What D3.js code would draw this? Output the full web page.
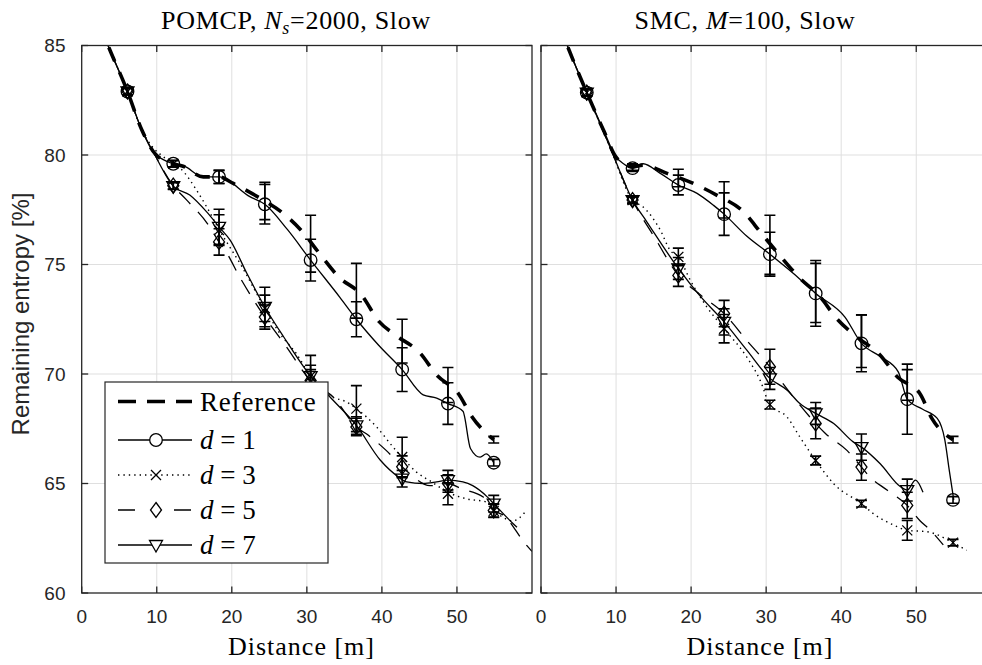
<!DOCTYPE html>
<html><head><meta charset="utf-8">
<script src="https://cdn.jsdelivr.net/npm/d3@7"></script>
<style>body{margin:0;background:#fff}svg{display:block}</style>
</head><body>
<svg id="chart" width="982" height="665"></svg>
<script>
// ---------------- data ----------------
const xTickValues = [0, 10, 20, 30, 40, 50];
const yTickValues = [60, 65, 70, 75, 80, 85];
const markerX = [6.1, 12.2, 18.3, 24.4, 30.5, 36.6, 42.7, 48.8, 54.9];
const legendLabels = ["Reference", "d = 1", "d = 3", "d = 5", "d = 7"];
const xAxisLabel = "Distance [m]";
const yAxisLabel = "Remaining entropy [%]";

// POMCP panel
const pomcpRefLine = [[0,88.4],[3.05,85.4],[6.1,82.9],[8,81.15],[9.8,80.05],[12.2,79.6],[13.4,79.5],[16.2,79.0],[18.3,79.0],[20.2,78.7],[22.9,78.2],[24.4,77.9],[26.6,77.4],[29.4,76.5],[31.8,75.45],[34.2,74.45],[37.3,73.6],[39.6,72.4],[41.7,71.8],[45.1,70.95],[47.3,69.95],[50.2,69.1],[52,68.05],[54.9,67.0]];
const pomcpRefMarks = [82.9,79.6,79.0,77.9,75.95,73.8,71.5,69.5,67.0];
const pomcpRefErr = [0.15,0.15,0.3,0.85,1.3,1.25,1.0,0.8,0.15];

const pomcpD1Line = [[0,88.4],[3.05,85.4],[6.1,82.9],[8,81.15],[9.6,80.1],[10.8,79.8],[12.2,79.6],[13.6,79.5],[16.2,79.0],[18.3,79.0],[22.4,78.1],[24.4,77.75],[27.4,76.6],[30.5,75.2],[34.4,73.5],[36.6,72.5],[39.6,71.3],[42.7,70.2],[45.5,69.05],[47.3,68.9],[48.8,68.65],[50.8,68.3],[51.8,66.6],[53.1,66.2],[53.9,66.35],[54.9,65.95]];
const pomcpD1Marks = [82.9,79.6,79.0,77.75,75.2,72.5,70.2,68.65,65.95];
const pomcpD1Err = [0.15,0.15,0.3,0.9,0.95,0.8,1.0,0.95,0.15];

const pomcpD3Line = [[0,88.4],[3.05,85.4],[6.1,82.9],[8,81.15],[9.6,80.3],[10.4,80.05],[12.2,79.6],[13.1,79.4],[15.3,78.4],[16.65,77.63],[18.3,76.6],[21.35,74.9],[24.4,73.0],[26.4,71.85],[28.6,70.93],[30.5,69.9],[33.1,69.0],[35.3,68.72],[36.6,68.42],[39.3,67.58],[41.5,66.66],[42.7,66.2],[44.6,65.52],[46.5,65.1],[48.8,64.6],[51.3,64.3],[54,64.15],[54.9,63.8],[57.5,63.3],[59.1,63.7]];
const pomcpD3Marks = [82.9,79.6,76.57,73.0,69.9,68.42,66.21,64.53,63.75];
const pomcpD3Err = [0.15,0.15,0.7,0.6,0.5,1.05,0.9,0.5,0.3];

const pomcpD5Line = [[0,88.4],[3.05,85.4],[6.1,82.9],[8,81.15],[9.6,80.1],[12.2,78.6],[14,77.94],[16.9,76.8],[18.3,76.03],[19.1,75.65],[21.1,74.4],[24.4,72.6],[27.3,71.23],[30.5,69.7],[33.5,68.95],[36.6,67.58],[38.2,67.2],[40.6,66.5],[42.7,65.76],[43.7,65.45],[46.4,64.9],[48.8,65.0],[50.6,64.76],[53.5,64.38],[54.9,63.77],[56.2,63.55],[59.1,62.25],[60,61.9]];
const pomcpD5Marks = [82.9,78.6,76.03,72.6,69.7,67.58,65.76,65.0,63.77];
const pomcpD5Err = [0.15,0.15,0.6,0.55,0.5,0.4,0.5,0.4,0.3];

const pomcpD7Line = [[0,88.4],[3.05,85.4],[6.1,82.9],[8,81.15],[9.6,80.1],[12.2,78.58],[14.4,78.17],[16.65,77.4],[18.3,76.72],[19.8,76.1],[22.0,74.6],[24.4,73.06],[26.9,71.7],[30.5,69.9],[33.5,68.8],[36.6,67.65],[39.8,66.06],[42.2,65.3],[43.3,65.07],[45.5,65.0],[47.3,65.07],[48.8,65.15],[50.8,65.07],[52.1,64.9],[54,64.4],[54.9,64.08],[57.5,63.16],[58,63.0]];
const pomcpD7Marks = [82.9,78.58,76.72,73.06,69.9,67.65,65.22,65.15,64.08];
const pomcpD7Err = [0.15,0.15,0.8,0.9,0.95,0.4,0.38,0.45,0.38];

// SMC panel
const smcRefLine = [[0,88.4],[3.05,85.4],[6.1,82.85],[8.5,81.0],[9.9,79.95],[11,79.6],[12.2,79.45],[13.6,79.54],[16.8,79.16],[20.3,78.7],[23.4,78.17],[27,77.4],[29.3,76.45],[31.6,75.5],[34.3,74.44],[37.2,73.52],[39.4,72.53],[42.1,71.69],[45.2,70.86],[47.5,69.86],[50.5,69.1],[52.1,67.96],[54.9,67.0]];
const smcRefMarks = [82.85,79.45,78.95,77.95,75.9,73.7,71.5,69.5,67.0];
const smcRefErr = [0.15,0.15,0.4,0.83,1.35,1.35,1.2,0.7,0.15];

const smcD1Line = [[0,88.4],[3.05,85.4],[6.1,82.85],[8.5,81.0],[9.9,79.95],[11,79.6],[12.2,79.4],[13.6,79.6],[15.9,79.16],[18.3,78.63],[20.8,78.25],[23,77.7],[24.4,77.3],[27.4,76.3],[30.5,75.47],[33.6,74.6],[36.6,73.68],[40.5,72.6],[42.7,71.4],[45.2,70.8],[47.6,70.1],[48.8,68.85],[50.8,68.4],[52.8,67.97],[53.8,67.0],[54.4,65.6],[55,64.25]];
const smcD1Marks = [82.85,79.4,78.63,77.3,75.47,73.68,71.4,68.85,64.25];
const smcD1Err = [0.15,0.15,0.45,0.97,1.0,1.5,1.3,1.6,0.15];

const smcD3Line = [[0,88.4],[3.05,85.4],[6.1,82.85],[9.2,80.35],[12.2,77.94],[13.6,77.63],[15.9,76.57],[17.2,75.65],[18.3,75.35],[19.9,74.28],[22.1,73.06],[24.4,72.07],[27.4,70.78],[29.2,69.71],[30.5,68.6],[32.8,68.03],[34.5,67.12],[36.6,66.05],[39,64.99],[42.7,64.08],[44.3,63.62],[47,63.1],[48.8,62.86],[51.4,62.8],[54.9,62.3],[56.7,61.95]];
const smcD3Marks = [82.85,77.94,75.35,72.07,68.6,66.05,64.08,62.86,62.3];
const smcD3Err = [0.15,0.15,0.4,0.65,0.2,0.2,0.15,0.45,0.15];

const smcD5Line = [[0,88.4],[3.05,85.4],[6.1,82.85],[9.2,80.35],[12.2,77.94],[15.2,76.2],[18.3,74.5],[21.3,73.6],[24.4,72.76],[27.4,71.54],[30.5,70.33],[33.5,69.0],[36.6,67.74],[37.9,67.28],[40.8,66.5],[42.7,65.75],[43.6,65.38],[46.1,64.7],[48.8,64.0],[50.5,63.3],[51.9,62.86],[53.6,62.2]];
const smcD5Marks = [82.85,77.94,74.5,72.76,70.33,67.74,65.75,64.0];
const smcD5Err = [0.15,0.15,0.5,0.6,0.8,0.7,0.6,0.6];

const smcD7Line = [[0,88.4],[3.05,85.4],[6.1,82.85],[9.2,80.35],[12.2,77.94],[14.1,76.95],[18.3,74.82],[21.1,73.6],[24.4,72.38],[27.4,71.1],[30.5,69.8],[32.8,69.26],[34.5,68.65],[36.6,68.2],[39,67.74],[41.6,66.9],[42.7,66.66],[45.2,65.9],[47.9,64.85],[48.8,64.7],[49.9,65.15],[50.9,64.6]];
const smcD7Marks = [82.85,77.94,74.82,72.38,69.8,68.2,66.66,64.7];
const smcD7Err = [0.15,0.15,0.5,0.6,0.5,0.5,0.6,0.5];

// ---------------- drawing ----------------
const svg = d3.select("#chart");
const AX = "#262626";
const TOP = 45.5, BOTTOM = 593;
const styles = {
  ref: {w: 3.6, dash: "15,12", marker: null},
  d1: {w: 1.3, dash: null, marker: "circle"},
  d3: {w: 1.4, dash: "1.4,4", marker: "x"},
  d5: {w: 1.3, dash: "16,11", marker: "diamond"},
  d7: {w: 1.3, dash: null, marker: "tri"}
};
const panels = [
  {x0: 81.7, w: 450.3, title: ["POMCP, ", "N", "s", "=2000, Slow"], titleX: 296, xlabX: 301.5,
   series: [
     {k:"d7", line: pomcpD7Line, m: pomcpD7Marks, e: pomcpD7Err},
     {k:"d5", line: pomcpD5Line, m: pomcpD5Marks, e: pomcpD5Err},
     {k:"d3", line: pomcpD3Line, m: pomcpD3Marks, e: pomcpD3Err},
     {k:"d1", line: pomcpD1Line, m: pomcpD1Marks, e: pomcpD1Err},
     {k:"ref", line: pomcpRefLine, m: pomcpRefMarks, e: pomcpRefErr}]},
  {x0: 541, w: 450.3, title: ["SMC, ", "M", "", "=100, Slow"], titleX: 745, xlabX: 760,
   series: [
     {k:"d7", line: smcD7Line, m: smcD7Marks, e: smcD7Err},
     {k:"d5", line: smcD5Line, m: smcD5Marks, e: smcD5Err},
     {k:"d3", line: smcD3Line, m: smcD3Marks, e: smcD3Err},
     {k:"d1", line: smcD1Line, m: smcD1Marks, e: smcD1Err},
     {k:"ref", line: smcRefLine, m: smcRefMarks, e: smcRefErr}]}
];

function markerPath(type) {
  if (type === "circle") return d3.symbol().type(d3.symbolCircle).size(Math.PI*6.3*6.3)();
  if (type === "x") return "M-5,-5L5,5M-5,5L5,-5";
  if (type === "diamond") return "M0,-7.5L5.5,0L0,7.5L-5.5,0Z";
  if (type === "tri") return "M-6.5,-4.5L6.5,-4.5L0,7Z";
  return null;
}

const defs = svg.append("defs");
const y = d3.scaleLinear().domain([60, 85]).range([BOTTOM, TOP]);

panels.forEach((p, pi) => {
  const x = d3.scaleLinear().domain([0, 60]).range([p.x0, p.x0 + p.w]);
  const g = svg.append("g");
  const cid = "clip" + pi;
  defs.append("clipPath").attr("id", cid).append("rect")
    .attr("x", p.x0).attr("y", TOP).attr("width", p.w).attr("height", BOTTOM - TOP);

  // grid
  g.append("g").selectAll("line").data(xTickValues.filter(v => v > 0)).join("line")
    .attr("x1", d => x(d)).attr("x2", d => x(d)).attr("y1", TOP).attr("y2", BOTTOM)
    .attr("stroke", "#dfdfdf").attr("stroke-width", 1);
  g.append("g").selectAll("line").data(yTickValues.filter(v => v > 60 && v < 85)).join("line")
    .attr("x1", p.x0).attr("x2", p.x0 + p.w).attr("y1", d => y(d)).attr("y2", d => y(d))
    .attr("stroke", "#dfdfdf").attr("stroke-width", 1);

  const plot = g.append("g").attr("clip-path", `url(#${cid})`);
  const lineGen = d3.line().x(d => x(d[0])).y(d => y(d[1])).curve(d3.curveMonotoneX);
  p.series.forEach(s => {
    const st = styles[s.k];
    plot.append("path").attr("d", lineGen(s.line)).attr("fill", "none")
      .attr("stroke", "#000").attr("stroke-width", st.w)
      .attr("stroke-dasharray", st.dash).attr("stroke-linejoin", "round");
  });
  // error bars
  p.series.forEach(s => {
    const eg = plot.append("g").attr("stroke", "#000").attr("stroke-width", 1.6).attr("fill", "none");
    s.m.forEach((v, i) => {
      const cx = x(markerX[i]), y1 = y(v + s.e[i]), y2 = y(v - s.e[i]);
      eg.append("path").attr("d", `M${cx},${y1}L${cx},${y2}M${cx-5.5},${y1}L${cx+5.5},${y1}M${cx-5.5},${y2}L${cx+5.5},${y2}`);
    });
  });
  // markers
  p.series.forEach(s => {
    const st = styles[s.k];
    if (!st.marker) return;
    const mp = markerPath(st.marker);
    plot.append("g").selectAll("path").data(s.m).join("path")
      .attr("d", mp).attr("transform", (d, i) => `translate(${x(markerX[i])},${y(d)})`)
      .attr("fill", "none").attr("stroke", "#000").attr("stroke-width", 1.3);
  });

  // axes box and ticks
  const ax = g.append("g").attr("stroke", AX).attr("fill", "none");
  ax.append("rect").attr("x", p.x0).attr("y", TOP).attr("width", p.w).attr("height", BOTTOM - TOP)
    .attr("stroke-width", 1.3);
  xTickValues.forEach(v => {
    ax.append("line").attr("x1", x(v)).attr("x2", x(v)).attr("y1", BOTTOM).attr("y2", BOTTOM - 6.5).attr("stroke-width", 1.3);
    ax.append("line").attr("x1", x(v)).attr("x2", x(v)).attr("y1", TOP).attr("y2", TOP + 6.5).attr("stroke-width", 1.3);
  });
  yTickValues.forEach(v => {
    ax.append("line").attr("x1", p.x0).attr("x2", p.x0 + 6.5).attr("y1", y(v)).attr("y2", y(v)).attr("stroke-width", 1.3);
    ax.append("line").attr("x1", p.x0 + p.w).attr("x2", p.x0 + p.w - 6.5).attr("y1", y(v)).attr("y2", y(v)).attr("stroke-width", 1.3);
  });
  // tick labels
  g.append("g").selectAll("text").data(xTickValues).join("text")
    .attr("x", d => x(d)).attr("y", 622.5).attr("text-anchor", "middle")
    .attr("font-family", "Liberation Sans, Arial, sans-serif").attr("font-size", 19).attr("fill", AX)
    .text(d => d);
  if (pi === 0) {
    g.append("g").selectAll("text").data(yTickValues).join("text")
      .attr("x", 65.5).attr("y", d => y(d)).attr("dy", "0.35em").attr("text-anchor", "end")
      .attr("font-family", "Liberation Sans, Arial, sans-serif").attr("font-size", 19).attr("fill", AX)
      .text(d => d);
  }
  // title
  const t = g.append("text").attr("x", p.titleX).attr("y", 29).attr("text-anchor", "middle")
    .attr("font-family", "Liberation Serif, Times New Roman, serif").attr("font-size", 26)
    .attr("letter-spacing", 0.7).attr("fill", "#000");
  t.append("tspan").text(p.title[0]);
  t.append("tspan").attr("font-style", "italic").text(p.title[1]);
  if (p.title[2]) t.append("tspan").attr("font-style", "italic").attr("font-size", 18).attr("dy", 5).text(p.title[2]);
  t.append("tspan").attr("dy", p.title[2] ? -5 : 0).text(p.title[3]);
  // x label
  g.append("text").attr("x", p.xlabX).attr("y", 655).attr("text-anchor", "middle")
    .attr("font-family", "Liberation Serif, Times New Roman, serif").attr("font-size", 26)
    .attr("letter-spacing", 1).attr("fill", "#000").text(xAxisLabel);
});

// y label
svg.append("text").attr("transform", `translate(29,314) rotate(-90)`).attr("text-anchor", "middle")
  .attr("font-family", "Liberation Sans, Arial, sans-serif").attr("font-size", 24).attr("fill", AX)
  .text(yAxisLabel);

// legend
const L = {x: 105, y: 382, w: 223, h: 181};
const lg = svg.append("g");
lg.append("rect").attr("x", L.x).attr("y", L.y).attr("width", L.w).attr("height", L.h)
  .attr("fill", "#fff").attr("stroke", AX).attr("stroke-width", 1.2);
const legendKeys = ["ref", "d1", "d3", "d5", "d7"];
const legendY = [401.5, 440, 475, 510, 545];
legendKeys.forEach((k, i) => {
  const st = styles[k];
  const yy = legendY[i];
  let dash = st.dash;
  if (k === "ref") dash = "18,11";
  if (k === "d5") dash = "17,39";
  lg.append("line").attr("x1", 118).attr("x2", 192).attr("y1", yy).attr("y2", yy)
    .attr("stroke", "#000").attr("stroke-width", st.w).attr("stroke-dasharray", dash);
  if (st.marker) {
    lg.append("path").attr("d", markerPath(st.marker)).attr("transform", `translate(156,${yy})`)
      .attr("fill", "#fff").attr("stroke", "#000").attr("stroke-width", 1.3);
  }
  const tx = lg.append("text").attr("x", 200).attr("y", yy).attr("dy", "0.35em")
    .attr("font-family", "Liberation Serif, Times New Roman, serif").attr("font-size", 27).attr("fill", "#000");
  if (k === "ref") {
    tx.attr("letter-spacing", 0.8).text(legendLabels[i]);
  } else {
    const parts = legendLabels[i].split(" = ");
    tx.append("tspan").attr("font-style", "italic").text(parts[0]);
    tx.append("tspan").text(" = " + parts[1]);
  }
});
</script>
</body></html>
